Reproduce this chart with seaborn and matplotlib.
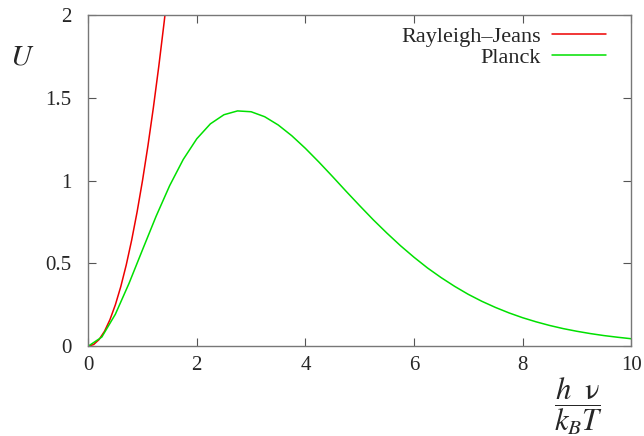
import numpy as np
import pandas as pd
import seaborn as sns
import matplotlib.pyplot as plt

# valores
x_rj = [0.0, 0.1, 0.2, 0.3, 0.4, 0.5, 0.6, 0.7, 0.8, 0.9, 1.0, 1.1, 1.2, 1.3, 1.4, 1.5]
u_rj = [0.0, 0.01, 0.04, 0.09, 0.16, 0.25, 0.36, 0.49, 0.64, 0.81, 1.0, 1.21, 1.44, 1.69, 1.96, 2.25]

x_planck = [0.0, 0.25, 0.5, 0.75, 1.0, 1.25, 1.5, 1.75, 2.0, 2.25, 2.5, 2.75, 3.0, 3.25,
            3.5, 3.75, 4.0, 4.25, 4.5, 4.75, 5.0, 5.25, 5.5, 5.75, 6.0, 6.25, 6.5, 6.75,
            7.0, 7.25, 7.5, 7.75, 8.0, 8.25, 8.5, 8.75, 9.0, 9.25, 9.5, 9.75, 10.0]
u_planck = [0.0, 0.055, 0.193, 0.378, 0.582, 0.784, 0.969, 1.127, 1.252, 1.342, 1.397, 1.420,
            1.415, 1.385, 1.335, 1.270, 1.194, 1.111, 1.024, 0.935, 0.848, 0.763, 0.683,
            0.607, 0.537, 0.472, 0.414, 0.361, 0.313, 0.271, 0.234, 0.201, 0.172, 0.147,
            0.125, 0.106, 0.090, 0.076, 0.064, 0.054, 0.045]

x_ticks = [0, 2, 4, 6, 8, 10]
y_ticks = [0, 0.5, 1, 1.5, 2]
y_ticklabels = ["0", "0.5", "1", "1.5", "2"]

df = pd.concat([
    pd.DataFrame({"x": x_rj, "u": u_rj, "curva": "Rayleigh\u2013Jeans"}),
    pd.DataFrame({"x": x_planck, "u": u_planck, "curva": "Planck"}),
])

sns.set_style("ticks")
plt.rcParams["font.family"] = ["Liberation Serif", "DejaVu Serif"]
plt.rcParams["mathtext.fontset"] = "stix"

fig = plt.figure(figsize=(6.44, 4.36), dpi=100)
ax = fig.add_axes([0.137, 0.206, 0.843, 0.760])

sns.lineplot(data=df, x="x", y="u", hue="curva", sort=False, estimator=None,
             palette={"Rayleigh\u2013Jeans": "#ee0000", "Planck": "#00e000"},
             linewidth=1.1, ax=ax)

ax.set_xlim(0, 10)
ax.set_ylim(0, 2)
ax.set_xticks(x_ticks)
ax.set_xticklabels([str(t) for t in x_ticks])
ax.set_yticks(y_ticks)
ax.set_yticklabels(y_ticklabels)
ax.set_xlabel("")
ax.set_ylabel("")

for s in ax.spines.values():
    s.set_visible(True)
    s.set_color("#777777")
    s.set_linewidth(1.0)
ax.tick_params(direction="in", top=True, right=True, length=6, width=0.8,
               color="#555555", labelsize=15)
ax.tick_params(axis="y", pad=12)
ax.tick_params(axis="x", pad=7)

leg = ax.legend(loc="upper right", bbox_to_anchor=(0.99, 1.025), frameon=False,
                markerfirst=False, fontsize=16, handlelength=2.4,
                labelspacing=0.0, handletextpad=0.5)

fig.text(22 / 644, 1 - 57 / 436, r"$U$", fontsize=21, ha="center", va="center")
fig.text(579 / 644, 1 - 406 / 436, r"$\dfrac{h\ \ \mathrm{\nu}}{k_B T}$", fontsize=22,
         ha="center", va="center")

plt.savefig("out.png", dpi=100)
